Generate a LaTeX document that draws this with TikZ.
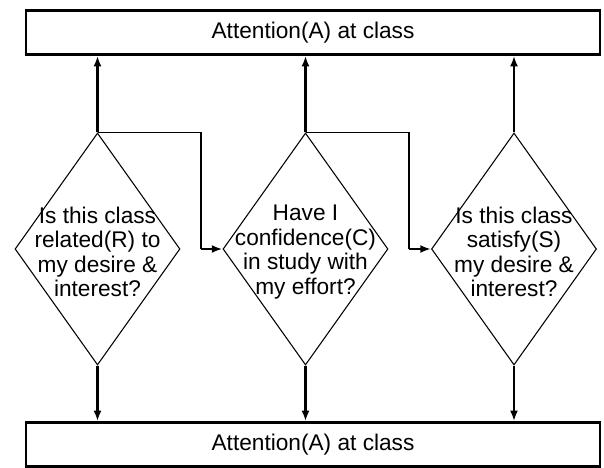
\documentclass[tikz,border=0pt]{standalone}
\usepackage{fontspec}
\setmainfont{Liberation Sans}
\usetikzlibrary{arrows.meta, positioning, shapes.geometric, calc}
\tikzset{
  attbox/.style={draw, line width=1.9pt, minimum width=430.5pt, minimum height=33pt, inner sep=0pt, font=\fontsize{17}{20}\selectfont},
  decision/.style={draw, diamond, line width=0.8pt, minimum width=123.75pt, minimum height=174pt, inner sep=0pt},
  qtext/.style={align=center, inner sep=0pt, font=\fontsize{17}{18.4}\selectfont},
  arr/.style={line width=1.6pt, -{Latex[length=8pt,width=6pt]}},
  link/.style={line width=0.8pt}
}
\begin{document}
\begin{tikzpicture}[x=0.75pt, y=0.75pt]
  \useasboundingbox (0,0) rectangle (604,468);
  % boxes on top and bottom
  \node[attbox] (top) at (313,435.5) {Attention(A) at class};
  \node[attbox] (bot) at (313,23.5) {Attention(A) at class};
  % the three questions
  \node[decision] (rel) at (97.5,219) {};
  \node[decision] (conf) at (305.5,219) {};
  \node[decision] (sat) at (514,219) {};
  \node[qtext] at ($(rel)+(0,-3)$) {Is this class\\related(R) to\\my desire \&\\interest?};
  \node[qtext] at ($(conf)+(0,-3)$) {Have I\\confidence(C)\\in study with\\my effort?};
  \node[qtext] at ($(sat)+(0,-3)$) {Is this class\\satisfy(S)\\my desire \&\\interest?};
  \coordinate (k1) at (201,219);
  \coordinate (k2) at (409,219);
  \foreach \d in {rel, conf, sat} {
    \draw[arr] (\d.north) -- (\d.north |- top.south);
    \draw[arr] (\d.south) -- (\d.south |- bot.north);
  }
  \draw[link] (rel.north) -| (k1);
  \draw[arr] (k1) -- (conf.west);
  \draw[link] (conf.north) -| (k2);
  \draw[arr] (k2) -- (sat.west);
\end{tikzpicture}
\end{document}
